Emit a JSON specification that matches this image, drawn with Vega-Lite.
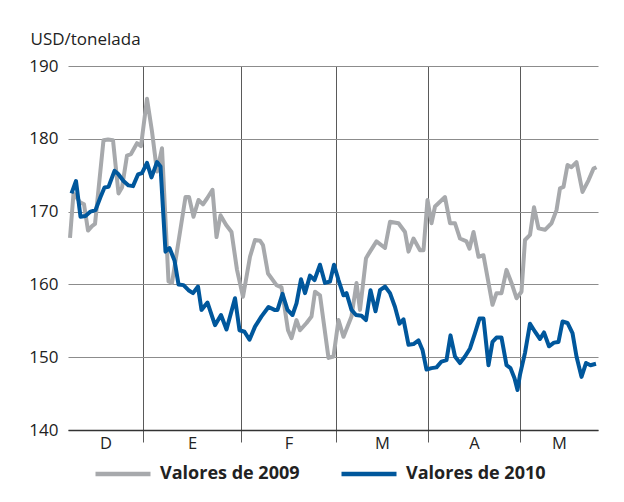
{
  "$schema": "https://vega.github.io/schema/vega-lite/v6.json",
  "width": 530,
  "height": 364,
  "autosize": {"type": "none"},
  "padding": {"left": 68, "top": 66, "right": 26, "bottom": 72},
  "background": "white",
  "config": {
    "view": {"stroke": null},
    "font": "Open Sans",
    "axis": {"labelFont": "Open Sans", "titleFont": "Open Sans"},
    "legend": {"labelFont": "Open Sans"}
  },
  "data": {
    "values": [
      {"serie": "Valores de 2009", "dia": 0.4, "precio": 166.4},
      {"serie": "Valores de 2009", "dia": 1.1, "precio": 172.5},
      {"serie": "Valores de 2009", "dia": 2.4, "precio": 171.3},
      {"serie": "Valores de 2009", "dia": 3.2, "precio": 171.0},
      {"serie": "Valores de 2009", "dia": 4.0, "precio": 167.4},
      {"serie": "Valores de 2009", "dia": 4.8, "precio": 168.0},
      {"serie": "Valores de 2009", "dia": 5.4, "precio": 168.3},
      {"serie": "Valores de 2009", "dia": 7.1, "precio": 179.8},
      {"serie": "Valores de 2009", "dia": 8.0, "precio": 179.9},
      {"serie": "Valores de 2009", "dia": 9.0, "precio": 179.8},
      {"serie": "Valores de 2009", "dia": 10.1, "precio": 172.5},
      {"serie": "Valores de 2009", "dia": 10.8, "precio": 173.3},
      {"serie": "Valores de 2009", "dia": 11.8, "precio": 177.7},
      {"serie": "Valores de 2009", "dia": 12.6, "precio": 177.9},
      {"serie": "Valores de 2009", "dia": 13.8, "precio": 179.4},
      {"serie": "Valores de 2009", "dia": 14.6, "precio": 179.0},
      {"serie": "Valores de 2009", "dia": 15.8, "precio": 185.5},
      {"serie": "Valores de 2009", "dia": 16.8, "precio": 181.0},
      {"serie": "Valores de 2009", "dia": 17.8, "precio": 175.5},
      {"serie": "Valores de 2009", "dia": 18.8, "precio": 178.7},
      {"serie": "Valores de 2009", "dia": 20.1, "precio": 160.4},
      {"serie": "Valores de 2009", "dia": 20.8, "precio": 160.2},
      {"serie": "Valores de 2009", "dia": 23.5, "precio": 172.0},
      {"serie": "Valores de 2009", "dia": 24.2, "precio": 172.0},
      {"serie": "Valores de 2009", "dia": 25.1, "precio": 169.3},
      {"serie": "Valores de 2009", "dia": 26.1, "precio": 171.6},
      {"serie": "Valores de 2009", "dia": 27.0, "precio": 171.0},
      {"serie": "Valores de 2009", "dia": 27.8, "precio": 171.8},
      {"serie": "Valores de 2009", "dia": 28.9, "precio": 173.0},
      {"serie": "Valores de 2009", "dia": 29.7, "precio": 166.5},
      {"serie": "Valores de 2009", "dia": 30.5, "precio": 169.5},
      {"serie": "Valores de 2009", "dia": 31.6, "precio": 168.2},
      {"serie": "Valores de 2009", "dia": 32.7, "precio": 167.2},
      {"serie": "Valores de 2009", "dia": 33.8, "precio": 162.0},
      {"serie": "Valores de 2009", "dia": 35.0, "precio": 158.3},
      {"serie": "Valores de 2009", "dia": 36.4, "precio": 163.8},
      {"serie": "Valores de 2009", "dia": 37.4, "precio": 166.1},
      {"serie": "Valores de 2009", "dia": 38.4, "precio": 166.0},
      {"serie": "Valores de 2009", "dia": 39.0, "precio": 165.4},
      {"serie": "Valores de 2009", "dia": 40.0, "precio": 161.5},
      {"serie": "Valores de 2009", "dia": 41.7, "precio": 159.9},
      {"serie": "Valores de 2009", "dia": 42.7, "precio": 159.6},
      {"serie": "Valores de 2009", "dia": 44.0, "precio": 153.7},
      {"serie": "Valores de 2009", "dia": 44.7, "precio": 152.6},
      {"serie": "Valores de 2009", "dia": 45.7, "precio": 155.1},
      {"serie": "Valores de 2009", "dia": 46.4, "precio": 153.7},
      {"serie": "Valores de 2009", "dia": 47.7, "precio": 154.7},
      {"serie": "Valores de 2009", "dia": 48.7, "precio": 155.6},
      {"serie": "Valores de 2009", "dia": 49.4, "precio": 159.0},
      {"serie": "Valores de 2009", "dia": 50.4, "precio": 158.5},
      {"serie": "Valores de 2009", "dia": 52.1, "precio": 149.9},
      {"serie": "Valores de 2009", "dia": 53.1, "precio": 150.1},
      {"serie": "Valores de 2009", "dia": 54.1, "precio": 155.1},
      {"serie": "Valores de 2009", "dia": 55.1, "precio": 152.8},
      {"serie": "Valores de 2009", "dia": 56.7, "precio": 155.6},
      {"serie": "Valores de 2009", "dia": 57.7, "precio": 160.2},
      {"serie": "Valores de 2009", "dia": 58.4, "precio": 156.5},
      {"serie": "Valores de 2009", "dia": 59.6, "precio": 163.6},
      {"serie": "Valores de 2009", "dia": 60.4, "precio": 164.5},
      {"serie": "Valores de 2009", "dia": 61.7, "precio": 165.9},
      {"serie": "Valores de 2009", "dia": 63.4, "precio": 165.0},
      {"serie": "Valores de 2009", "dia": 64.4, "precio": 168.6},
      {"serie": "Valores de 2009", "dia": 66.1, "precio": 168.4},
      {"serie": "Valores de 2009", "dia": 67.4, "precio": 167.2},
      {"serie": "Valores de 2009", "dia": 68.1, "precio": 164.5},
      {"serie": "Valores de 2009", "dia": 69.1, "precio": 166.3},
      {"serie": "Valores de 2009", "dia": 70.4, "precio": 164.7},
      {"serie": "Valores de 2009", "dia": 71.1, "precio": 164.7},
      {"serie": "Valores de 2009", "dia": 71.9, "precio": 171.6},
      {"serie": "Valores de 2009", "dia": 72.7, "precio": 168.4},
      {"serie": "Valores de 2009", "dia": 73.4, "precio": 170.7},
      {"serie": "Valores de 2009", "dia": 75.4, "precio": 172.0},
      {"serie": "Valores de 2009", "dia": 76.4, "precio": 168.4},
      {"serie": "Valores de 2009", "dia": 77.4, "precio": 168.4},
      {"serie": "Valores de 2009", "dia": 78.4, "precio": 166.3},
      {"serie": "Valores de 2009", "dia": 79.7, "precio": 165.9},
      {"serie": "Valores de 2009", "dia": 80.3, "precio": 164.9},
      {"serie": "Valores de 2009", "dia": 81.1, "precio": 167.2},
      {"serie": "Valores de 2009", "dia": 82.1, "precio": 163.8},
      {"serie": "Valores de 2009", "dia": 83.1, "precio": 164.0},
      {"serie": "Valores de 2009", "dia": 84.1, "precio": 160.2},
      {"serie": "Valores de 2009", "dia": 84.9, "precio": 157.2},
      {"serie": "Valores de 2009", "dia": 85.7, "precio": 158.8},
      {"serie": "Valores de 2009", "dia": 86.7, "precio": 158.8},
      {"serie": "Valores de 2009", "dia": 87.7, "precio": 162.0},
      {"serie": "Valores de 2009", "dia": 88.7, "precio": 160.2},
      {"serie": "Valores de 2009", "dia": 89.7, "precio": 158.1},
      {"serie": "Valores de 2009", "dia": 90.7, "precio": 159.0},
      {"serie": "Valores de 2009", "dia": 91.4, "precio": 166.1},
      {"serie": "Valores de 2009", "dia": 92.4, "precio": 166.8},
      {"serie": "Valores de 2009", "dia": 93.2, "precio": 170.6},
      {"serie": "Valores de 2009", "dia": 94.1, "precio": 167.7},
      {"serie": "Valores de 2009", "dia": 95.4, "precio": 167.5},
      {"serie": "Valores de 2009", "dia": 96.7, "precio": 168.4},
      {"serie": "Valores de 2009", "dia": 97.7, "precio": 170.2},
      {"serie": "Valores de 2009", "dia": 98.4, "precio": 173.2},
      {"serie": "Valores de 2009", "dia": 99.1, "precio": 173.4},
      {"serie": "Valores de 2009", "dia": 99.9, "precio": 176.4},
      {"serie": "Valores de 2009", "dia": 100.7, "precio": 176.1},
      {"serie": "Valores de 2009", "dia": 101.7, "precio": 176.8},
      {"serie": "Valores de 2009", "dia": 102.9, "precio": 172.7},
      {"serie": "Valores de 2009", "dia": 104.1, "precio": 174.3},
      {"serie": "Valores de 2009", "dia": 105.1, "precio": 175.9},
      {"serie": "Valores de 2009", "dia": 105.7, "precio": 176.1},
      {"serie": "Valores de 2010", "dia": 0.7, "precio": 172.5},
      {"serie": "Valores de 2010", "dia": 1.6, "precio": 174.2},
      {"serie": "Valores de 2010", "dia": 2.5, "precio": 169.3},
      {"serie": "Valores de 2010", "dia": 3.5, "precio": 169.4},
      {"serie": "Valores de 2010", "dia": 4.5, "precio": 170.0},
      {"serie": "Valores de 2010", "dia": 5.5, "precio": 170.2},
      {"serie": "Valores de 2010", "dia": 6.5, "precio": 172.0},
      {"serie": "Valores de 2010", "dia": 7.3, "precio": 173.3},
      {"serie": "Valores de 2010", "dia": 8.1, "precio": 173.4},
      {"serie": "Valores de 2010", "dia": 9.3, "precio": 175.6},
      {"serie": "Valores de 2010", "dia": 10.0, "precio": 175.2},
      {"serie": "Valores de 2010", "dia": 11.1, "precio": 174.2},
      {"serie": "Valores de 2010", "dia": 12.1, "precio": 173.6},
      {"serie": "Valores de 2010", "dia": 13.0, "precio": 173.5},
      {"serie": "Valores de 2010", "dia": 14.0, "precio": 175.1},
      {"serie": "Valores de 2010", "dia": 14.8, "precio": 175.3},
      {"serie": "Valores de 2010", "dia": 15.8, "precio": 176.7},
      {"serie": "Valores de 2010", "dia": 16.7, "precio": 174.7},
      {"serie": "Valores de 2010", "dia": 17.8, "precio": 176.8},
      {"serie": "Valores de 2010", "dia": 18.5, "precio": 176.2},
      {"serie": "Valores de 2010", "dia": 19.5, "precio": 164.5},
      {"serie": "Valores de 2010", "dia": 20.3, "precio": 165.0},
      {"serie": "Valores de 2010", "dia": 21.3, "precio": 163.3},
      {"serie": "Valores de 2010", "dia": 22.1, "precio": 160.0},
      {"serie": "Valores de 2010", "dia": 23.1, "precio": 159.9},
      {"serie": "Valores de 2010", "dia": 24.1, "precio": 159.2},
      {"serie": "Valores de 2010", "dia": 25.0, "precio": 158.8},
      {"serie": "Valores de 2010", "dia": 26.0, "precio": 159.7},
      {"serie": "Valores de 2010", "dia": 26.7, "precio": 156.5},
      {"serie": "Valores de 2010", "dia": 27.9, "precio": 157.5},
      {"serie": "Valores de 2010", "dia": 29.4, "precio": 154.4},
      {"serie": "Valores de 2010", "dia": 30.6, "precio": 155.8},
      {"serie": "Valores de 2010", "dia": 31.7, "precio": 153.8},
      {"serie": "Valores de 2010", "dia": 33.4, "precio": 158.1},
      {"serie": "Valores de 2010", "dia": 34.3, "precio": 153.7},
      {"serie": "Valores de 2010", "dia": 35.3, "precio": 153.5},
      {"serie": "Valores de 2010", "dia": 36.3, "precio": 152.4},
      {"serie": "Valores de 2010", "dia": 37.4, "precio": 154.2},
      {"serie": "Valores de 2010", "dia": 38.7, "precio": 155.6},
      {"serie": "Valores de 2010", "dia": 40.1, "precio": 156.9},
      {"serie": "Valores de 2010", "dia": 41.3, "precio": 156.5},
      {"serie": "Valores de 2010", "dia": 41.9, "precio": 156.5},
      {"serie": "Valores de 2010", "dia": 42.9, "precio": 158.7},
      {"serie": "Valores de 2010", "dia": 43.9, "precio": 156.5},
      {"serie": "Valores de 2010", "dia": 44.9, "precio": 155.8},
      {"serie": "Valores de 2010", "dia": 45.7, "precio": 157.4},
      {"serie": "Valores de 2010", "dia": 46.6, "precio": 160.7},
      {"serie": "Valores de 2010", "dia": 47.4, "precio": 158.8},
      {"serie": "Valores de 2010", "dia": 48.4, "precio": 161.2},
      {"serie": "Valores de 2010", "dia": 49.3, "precio": 160.6},
      {"serie": "Valores de 2010", "dia": 50.4, "precio": 162.7},
      {"serie": "Valores de 2010", "dia": 51.4, "precio": 160.2},
      {"serie": "Valores de 2010", "dia": 52.4, "precio": 160.4},
      {"serie": "Valores de 2010", "dia": 53.2, "precio": 162.7},
      {"serie": "Valores de 2010", "dia": 54.1, "precio": 160.6},
      {"serie": "Valores de 2010", "dia": 55.1, "precio": 158.5},
      {"serie": "Valores de 2010", "dia": 55.7, "precio": 158.8},
      {"serie": "Valores de 2010", "dia": 56.7, "precio": 156.5},
      {"serie": "Valores de 2010", "dia": 57.6, "precio": 155.8},
      {"serie": "Valores de 2010", "dia": 58.7, "precio": 155.7},
      {"serie": "Valores de 2010", "dia": 59.6, "precio": 155.1},
      {"serie": "Valores de 2010", "dia": 60.5, "precio": 159.2},
      {"serie": "Valores de 2010", "dia": 61.5, "precio": 156.3},
      {"serie": "Valores de 2010", "dia": 62.4, "precio": 159.2},
      {"serie": "Valores de 2010", "dia": 63.4, "precio": 159.7},
      {"serie": "Valores de 2010", "dia": 64.4, "precio": 158.8},
      {"serie": "Valores de 2010", "dia": 65.4, "precio": 156.9},
      {"serie": "Valores de 2010", "dia": 66.3, "precio": 154.6},
      {"serie": "Valores de 2010", "dia": 67.1, "precio": 155.2},
      {"serie": "Valores de 2010", "dia": 68.1, "precio": 151.7},
      {"serie": "Valores de 2010", "dia": 69.1, "precio": 151.8},
      {"serie": "Valores de 2010", "dia": 70.1, "precio": 152.3},
      {"serie": "Valores de 2010", "dia": 70.9, "precio": 151.0},
      {"serie": "Valores de 2010", "dia": 71.7, "precio": 148.3},
      {"serie": "Valores de 2010", "dia": 72.7, "precio": 148.5},
      {"serie": "Valores de 2010", "dia": 73.7, "precio": 148.6},
      {"serie": "Valores de 2010", "dia": 74.7, "precio": 149.4},
      {"serie": "Valores de 2010", "dia": 75.7, "precio": 149.6},
      {"serie": "Valores de 2010", "dia": 76.5, "precio": 153.0},
      {"serie": "Valores de 2010", "dia": 77.4, "precio": 150.1},
      {"serie": "Valores de 2010", "dia": 78.4, "precio": 149.2},
      {"serie": "Valores de 2010", "dia": 79.4, "precio": 150.1},
      {"serie": "Valores de 2010", "dia": 80.4, "precio": 151.2},
      {"serie": "Valores de 2010", "dia": 81.4, "precio": 153.3},
      {"serie": "Valores de 2010", "dia": 82.3, "precio": 155.3},
      {"serie": "Valores de 2010", "dia": 83.1, "precio": 155.3},
      {"serie": "Valores de 2010", "dia": 84.1, "precio": 148.9},
      {"serie": "Valores de 2010", "dia": 84.9, "precio": 152.1},
      {"serie": "Valores de 2010", "dia": 85.7, "precio": 152.7},
      {"serie": "Valores de 2010", "dia": 86.7, "precio": 152.7},
      {"serie": "Valores de 2010", "dia": 87.7, "precio": 148.9},
      {"serie": "Valores de 2010", "dia": 88.5, "precio": 148.5},
      {"serie": "Valores de 2010", "dia": 89.3, "precio": 147.1},
      {"serie": "Valores de 2010", "dia": 89.9, "precio": 145.5},
      {"serie": "Valores de 2010", "dia": 90.4, "precio": 147.6},
      {"serie": "Valores de 2010", "dia": 91.4, "precio": 150.6},
      {"serie": "Valores de 2010", "dia": 92.4, "precio": 154.6},
      {"serie": "Valores de 2010", "dia": 93.4, "precio": 153.5},
      {"serie": "Valores de 2010", "dia": 94.4, "precio": 152.5},
      {"serie": "Valores de 2010", "dia": 95.2, "precio": 153.4},
      {"serie": "Valores de 2010", "dia": 96.2, "precio": 151.5},
      {"serie": "Valores de 2010", "dia": 97.2, "precio": 152.0},
      {"serie": "Valores de 2010", "dia": 98.1, "precio": 152.1},
      {"serie": "Valores de 2010", "dia": 98.9, "precio": 154.9},
      {"serie": "Valores de 2010", "dia": 99.9, "precio": 154.7},
      {"serie": "Valores de 2010", "dia": 100.9, "precio": 153.3},
      {"serie": "Valores de 2010", "dia": 101.7, "precio": 150.1},
      {"serie": "Valores de 2010", "dia": 102.7, "precio": 147.3},
      {"serie": "Valores de 2010", "dia": 103.6, "precio": 149.2},
      {"serie": "Valores de 2010", "dia": 104.5, "precio": 148.9},
      {"serie": "Valores de 2010", "dia": 105.6, "precio": 149.1}
    ]
  },
  "mark": {"type": "line", "strokeWidth": 4, "strokeJoin": "round", "clip": true},
  "encoding": {
    "x": {
      "field": "dia",
      "type": "quantitative",
      "scale": {"domain": [0, 106], "nice": false, "zero": false},
      "axis": {
        "title": null,
        "values": [7.5, 15, 24.8, 34.6, 44.1, 53.6, 62.8, 72, 81.2, 90.4, 98.2],
        "labelExpr": "indexof([7.5, 24.8, 44.1, 62.8, 81.2, 98.2], datum.value) >= 0 ? ['D','E','F','M','A','M'][indexof([7.5, 24.8, 44.1, 62.8, 81.2, 98.2], datum.value)] : ''",
        "grid": true,
        "gridColor": "#5a5a5a",
        "gridWidth": 1,
        "gridOpacity": {"expr": "indexof([15, 34.6, 53.6, 72, 90.4], datum.value) >= 0 ? 1 : 0"},
        "ticks": true,
        "tickSize": 12,
        "tickColor": "#5a5a5a",
        "tickWidth": 1,
        "tickOpacity": {"expr": "indexof([15, 34.6, 53.6, 72, 90.4], datum.value) >= 0 ? 1 : 0"},
        "domain": true,
        "domainColor": "#333333",
        "domainWidth": 1.5,
        "labelFontSize": 16.5,
        "labelColor": "#222222",
        "labelPadding": -7,
        "labelFlush": false,
        "labelOverlap": false
      }
    },
    "y": {
      "field": "precio",
      "type": "quantitative",
      "scale": {"domain": [140, 190], "nice": false, "zero": false},
      "axis": {
        "values": [140, 150, 160, 170, 180, 190],
        "title": "USD/tonelada",
        "titleAngle": 0,
        "titleAlign": "left",
        "titleBaseline": "middle",
        "titleX": -38,
        "titleY": -27,
        "titleFontSize": 17,
        "titleFontWeight": "normal",
        "titleColor": "#222222",
        "grid": true,
        "gridColor": "#8c8c8c",
        "gridWidth": 1.2,
        "domain": false,
        "ticks": false,
        "labelFontSize": 17,
        "labelColor": "#222222",
        "labelPadding": 10
      }
    },
    "color": {
      "field": "serie",
      "type": "nominal",
      "scale": {"domain": ["Valores de 2009", "Valores de 2010"], "range": ["#a7a9ac", "#00579c"]},
      "legend": {
        "title": null,
        "orient": "none",
        "legendX": 25,
        "legendY": 378,
        "direction": "horizontal",
        "symbolType": "stroke",
        "symbolSize": 3025,
        "symbolStrokeWidth": 4.5,
        "labelFontSize": 18,
        "labelFontWeight": "bold",
        "labelColor": "#222222",
        "labelOffset": 7,
        "columnPadding": 32
      }
    }
  }
}
